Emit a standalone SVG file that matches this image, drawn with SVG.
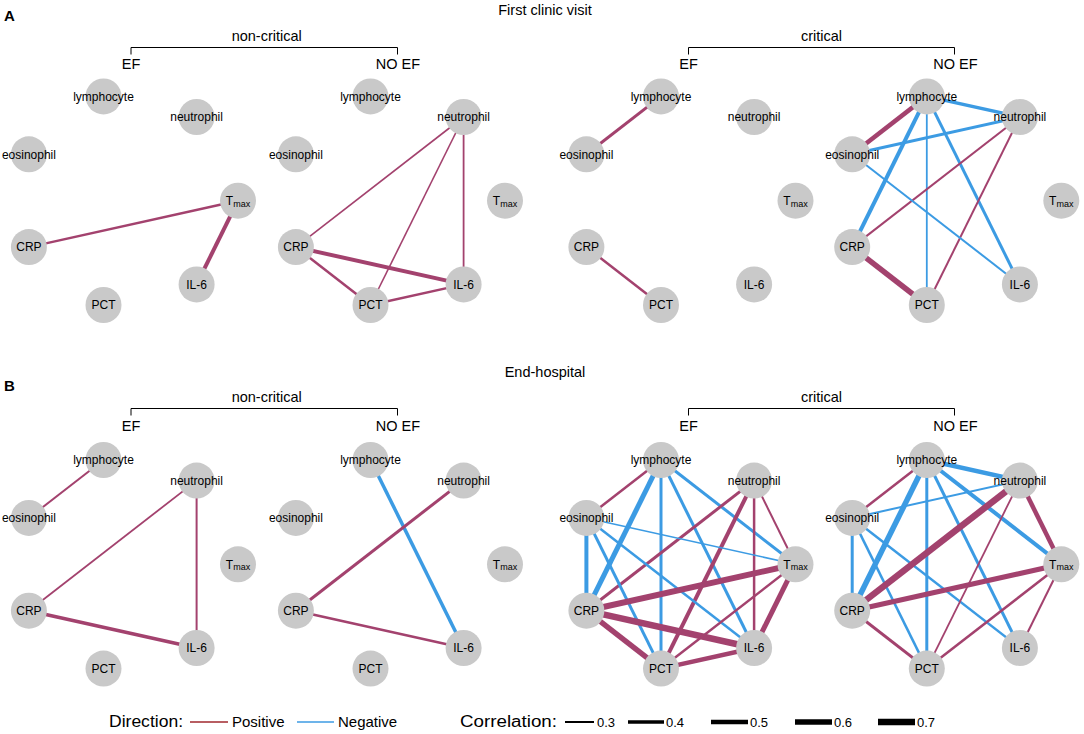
<svg xmlns="http://www.w3.org/2000/svg" width="1084" height="734" viewBox="0 0 1084 734">
<style>
text{font-family:"Liberation Sans",Arial,sans-serif;fill:#000}
.ttl{font-size:14.5px;text-anchor:middle}
.pl{font-size:15px;font-weight:bold}
.nl{font-size:12px;text-anchor:middle}
.sub{font-size:9px}
.nd{fill:#c9c9c9}
.br{fill:none;stroke:#000;stroke-width:1}
.p{stroke:#a3426e;fill:none}
.n{stroke:#3c9be3;fill:none}
.lt{font-size:16px}
.li{font-size:15px}
.ln{font-size:13px}
</style>

<!-- Titles -->
<text class="pl" x="4" y="21">A</text>
<text class="ttl" x="545" y="15">First clinic visit</text>
<text class="ttl" x="266.7" y="40.5">non-critical</text>
<path class="br" d="M131,54.5V47.5H397.5V54.5"/>
<text class="ttl" x="131" y="69">EF</text>
<text class="ttl" x="398" y="69">NO EF</text>
<text class="ttl" x="821.5" y="40.5">critical</text>
<path class="br" d="M688.5,54.5V47.5H954.5V54.5"/>
<text class="ttl" x="688.5" y="69">EF</text>
<text class="ttl" x="955.5" y="69">NO EF</text>

<text class="pl" x="4" y="391">B</text>
<text class="ttl" x="545" y="377">End-hospital</text>
<text class="ttl" x="266.7" y="402">non-critical</text>
<path class="br" d="M131,415.5V408.5H397.5V415.5"/>
<text class="ttl" x="131" y="431">EF</text>
<text class="ttl" x="398" y="431">NO EF</text>
<text class="ttl" x="821.5" y="402">critical</text>
<path class="br" d="M688.5,415.5V408.5H954.5V415.5"/>
<text class="ttl" x="688.5" y="431">EF</text>
<text class="ttl" x="955.5" y="431">NO EF</text>

<!-- Panel A1 -->
<g id="panelA1" transform="translate(128,200.7)">
<g id="A1-connectors">
<line class="p" x1="-99.1" y1="46.4" x2="110" y2="0" stroke-width="2.5"/>
<line class="p" x1="110" y1="0" x2="68.6" y2="83.7" stroke-width="4"/>
</g>
<g id="A1-lymphocyte"><circle class="nd" cx="-24.5" cy="-104.3" r="18"/><text class="nl" x="-24.5" y="-100">lymphocyte</text></g>
<g id="A1-neutrophil"><circle class="nd" cx="68.6" cy="-83.7" r="18"/><text class="nl" x="68.6" y="-79.4">neutrophil</text></g>
<g id="A1-eosinophil"><circle class="nd" cx="-99.1" cy="-46.4" r="18"/><text class="nl" x="-99.1" y="-42.1">eosinophil</text></g>
<g id="A1-Tmax"><circle class="nd" cx="110" cy="0" r="18"/><text class="nl" x="110" y="4.3">T<tspan class="sub" dy="1.7">max</tspan></text></g>
<g id="A1-CRP"><circle class="nd" cx="-99.1" cy="46.4" r="18"/><text class="nl" x="-99.1" y="50.7">CRP</text></g>
<g id="A1-IL6"><circle class="nd" cx="68.6" cy="83.7" r="18"/><text class="nl" x="68.6" y="88">IL-6</text></g>
<g id="A1-PCT"><circle class="nd" cx="-24.5" cy="104.3" r="18"/><text class="nl" x="-24.5" y="108.6">PCT</text></g>
</g>

<!-- Panel A2 -->
<g id="panelA2" transform="translate(395,200.7)">
<g id="A2-connectors">
<line class="p" x1="68.6" y1="-83.7" x2="-99.1" y2="46.4" stroke-width="1.6"/>
<line class="p" x1="68.6" y1="-83.7" x2="-24.5" y2="104.3" stroke-width="1.6"/>
<line class="p" x1="68.6" y1="-83.7" x2="68.6" y2="83.7" stroke-width="1.8"/>
<line class="p" x1="-99.1" y1="46.4" x2="68.6" y2="83.7" stroke-width="4"/>
<line class="p" x1="-99.1" y1="46.4" x2="-24.5" y2="104.3" stroke-width="2.5"/>
<line class="p" x1="-24.5" y1="104.3" x2="68.6" y2="83.7" stroke-width="2.5"/>
</g>
<g id="A2-lymphocyte"><circle class="nd" cx="-24.5" cy="-104.3" r="18"/><text class="nl" x="-24.5" y="-100">lymphocyte</text></g>
<g id="A2-neutrophil"><circle class="nd" cx="68.6" cy="-83.7" r="18"/><text class="nl" x="68.6" y="-79.4">neutrophil</text></g>
<g id="A2-eosinophil"><circle class="nd" cx="-99.1" cy="-46.4" r="18"/><text class="nl" x="-99.1" y="-42.1">eosinophil</text></g>
<g id="A2-Tmax"><circle class="nd" cx="110" cy="0" r="18"/><text class="nl" x="110" y="4.3">T<tspan class="sub" dy="1.7">max</tspan></text></g>
<g id="A2-CRP"><circle class="nd" cx="-99.1" cy="46.4" r="18"/><text class="nl" x="-99.1" y="50.7">CRP</text></g>
<g id="A2-IL6"><circle class="nd" cx="68.6" cy="83.7" r="18"/><text class="nl" x="68.6" y="88">IL-6</text></g>
<g id="A2-PCT"><circle class="nd" cx="-24.5" cy="104.3" r="18"/><text class="nl" x="-24.5" y="108.6">PCT</text></g>
</g>

<!-- Panel A3 -->
<g id="panelA3" transform="translate(685.5,200.7)">
<g id="A3-connectors">
<line class="p" x1="-24.5" y1="-104.3" x2="-99.1" y2="-46.4" stroke-width="3"/>
<line class="p" x1="-99.1" y1="46.4" x2="-24.5" y2="104.3" stroke-width="2.5"/>
</g>
<g id="A3-lymphocyte"><circle class="nd" cx="-24.5" cy="-104.3" r="18"/><text class="nl" x="-24.5" y="-100">lymphocyte</text></g>
<g id="A3-neutrophil"><circle class="nd" cx="68.6" cy="-83.7" r="18"/><text class="nl" x="68.6" y="-79.4">neutrophil</text></g>
<g id="A3-eosinophil"><circle class="nd" cx="-99.1" cy="-46.4" r="18"/><text class="nl" x="-99.1" y="-42.1">eosinophil</text></g>
<g id="A3-Tmax"><circle class="nd" cx="110" cy="0" r="18"/><text class="nl" x="110" y="4.3">T<tspan class="sub" dy="1.7">max</tspan></text></g>
<g id="A3-CRP"><circle class="nd" cx="-99.1" cy="46.4" r="18"/><text class="nl" x="-99.1" y="50.7">CRP</text></g>
<g id="A3-IL6"><circle class="nd" cx="68.6" cy="83.7" r="18"/><text class="nl" x="68.6" y="88">IL-6</text></g>
<g id="A3-PCT"><circle class="nd" cx="-24.5" cy="104.3" r="18"/><text class="nl" x="-24.5" y="108.6">PCT</text></g>
</g>

<!-- Panel A4 -->
<g id="panelA4" transform="translate(951.3,200.7)">
<g id="A4-connectors">
<line class="p" x1="-24.5" y1="-104.3" x2="-99.1" y2="-46.4" stroke-width="4.5"/>
<line class="n" x1="-24.5" y1="-104.3" x2="68.6" y2="-83.7" stroke-width="3.5"/>
<line class="n" x1="-99.1" y1="-46.4" x2="68.6" y2="-83.7" stroke-width="3"/>
<line class="n" x1="-24.5" y1="-104.3" x2="-99.1" y2="46.4" stroke-width="4"/>
<line class="n" x1="-24.5" y1="-104.3" x2="-24.5" y2="104.3" stroke-width="1.8"/>
<line class="n" x1="-24.5" y1="-104.3" x2="68.6" y2="83.7" stroke-width="3"/>
<line class="p" x1="68.6" y1="-83.7" x2="-99.1" y2="46.4" stroke-width="2"/>
<line class="p" x1="68.6" y1="-83.7" x2="-24.5" y2="104.3" stroke-width="2"/>
<line class="n" x1="-99.1" y1="-46.4" x2="68.6" y2="83.7" stroke-width="2"/>
<line class="p" x1="-99.1" y1="46.4" x2="-24.5" y2="104.3" stroke-width="5.5"/>
</g>
<g id="A4-lymphocyte"><circle class="nd" cx="-24.5" cy="-104.3" r="18"/><text class="nl" x="-24.5" y="-100">lymphocyte</text></g>
<g id="A4-neutrophil"><circle class="nd" cx="68.6" cy="-83.7" r="18"/><text class="nl" x="68.6" y="-79.4">neutrophil</text></g>
<g id="A4-eosinophil"><circle class="nd" cx="-99.1" cy="-46.4" r="18"/><text class="nl" x="-99.1" y="-42.1">eosinophil</text></g>
<g id="A4-Tmax"><circle class="nd" cx="110" cy="0" r="18"/><text class="nl" x="110" y="4.3">T<tspan class="sub" dy="1.7">max</tspan></text></g>
<g id="A4-CRP"><circle class="nd" cx="-99.1" cy="46.4" r="18"/><text class="nl" x="-99.1" y="50.7">CRP</text></g>
<g id="A4-IL6"><circle class="nd" cx="68.6" cy="83.7" r="18"/><text class="nl" x="68.6" y="88">IL-6</text></g>
<g id="A4-PCT"><circle class="nd" cx="-24.5" cy="104.3" r="18"/><text class="nl" x="-24.5" y="108.6">PCT</text></g>
</g>

<!-- Panel B1 -->
<g id="panelB1" transform="translate(128,564.3)">
<g id="B1-connectors">
<line class="p" x1="-24.5" y1="-104.3" x2="-99.1" y2="-46.4" stroke-width="2"/>
<line class="p" x1="68.6" y1="-83.7" x2="-99.1" y2="46.4" stroke-width="1.8"/>
<line class="p" x1="68.6" y1="-83.7" x2="68.6" y2="83.7" stroke-width="2"/>
<line class="p" x1="-99.1" y1="46.4" x2="68.6" y2="83.7" stroke-width="3.5"/>
</g>
<g id="B1-lymphocyte"><circle class="nd" cx="-24.5" cy="-104.3" r="18"/><text class="nl" x="-24.5" y="-100">lymphocyte</text></g>
<g id="B1-neutrophil"><circle class="nd" cx="68.6" cy="-83.7" r="18"/><text class="nl" x="68.6" y="-79.4">neutrophil</text></g>
<g id="B1-eosinophil"><circle class="nd" cx="-99.1" cy="-46.4" r="18"/><text class="nl" x="-99.1" y="-42.1">eosinophil</text></g>
<g id="B1-Tmax"><circle class="nd" cx="110" cy="0" r="18"/><text class="nl" x="110" y="4.3">T<tspan class="sub" dy="1.7">max</tspan></text></g>
<g id="B1-CRP"><circle class="nd" cx="-99.1" cy="46.4" r="18"/><text class="nl" x="-99.1" y="50.7">CRP</text></g>
<g id="B1-IL6"><circle class="nd" cx="68.6" cy="83.7" r="18"/><text class="nl" x="68.6" y="88">IL-6</text></g>
<g id="B1-PCT"><circle class="nd" cx="-24.5" cy="104.3" r="18"/><text class="nl" x="-24.5" y="108.6">PCT</text></g>
</g>

<!-- Panel B2 -->
<g id="panelB2" transform="translate(395,564.3)">
<g id="B2-connectors">
<line class="n" x1="-24.5" y1="-104.3" x2="68.6" y2="83.7" stroke-width="3.5"/>
<line class="p" x1="68.6" y1="-83.7" x2="-99.1" y2="46.4" stroke-width="3"/>
<line class="p" x1="-99.1" y1="46.4" x2="68.6" y2="83.7" stroke-width="2.5"/>
</g>
<g id="B2-lymphocyte"><circle class="nd" cx="-24.5" cy="-104.3" r="18"/><text class="nl" x="-24.5" y="-100">lymphocyte</text></g>
<g id="B2-neutrophil"><circle class="nd" cx="68.6" cy="-83.7" r="18"/><text class="nl" x="68.6" y="-79.4">neutrophil</text></g>
<g id="B2-eosinophil"><circle class="nd" cx="-99.1" cy="-46.4" r="18"/><text class="nl" x="-99.1" y="-42.1">eosinophil</text></g>
<g id="B2-Tmax"><circle class="nd" cx="110" cy="0" r="18"/><text class="nl" x="110" y="4.3">T<tspan class="sub" dy="1.7">max</tspan></text></g>
<g id="B2-CRP"><circle class="nd" cx="-99.1" cy="46.4" r="18"/><text class="nl" x="-99.1" y="50.7">CRP</text></g>
<g id="B2-IL6"><circle class="nd" cx="68.6" cy="83.7" r="18"/><text class="nl" x="68.6" y="88">IL-6</text></g>
<g id="B2-PCT"><circle class="nd" cx="-24.5" cy="104.3" r="18"/><text class="nl" x="-24.5" y="108.6">PCT</text></g>
</g>

<!-- Panel B3 -->
<g id="panelB3" transform="translate(685.5,564.3)">
<g id="B3-connectors">
<line class="p" x1="-24.5" y1="-104.3" x2="-99.1" y2="-46.4" stroke-width="2.5"/>
<line class="n" x1="-24.5" y1="-104.3" x2="-99.1" y2="46.4" stroke-width="5"/>
<line class="n" x1="-24.5" y1="-104.3" x2="-24.5" y2="104.3" stroke-width="3"/>
<line class="n" x1="-24.5" y1="-104.3" x2="68.6" y2="83.7" stroke-width="3"/>
<line class="n" x1="-24.5" y1="-104.3" x2="110" y2="0" stroke-width="3"/>
<line class="p" x1="68.6" y1="-83.7" x2="-99.1" y2="46.4" stroke-width="3"/>
<line class="p" x1="68.6" y1="-83.7" x2="-24.5" y2="104.3" stroke-width="4"/>
<line class="p" x1="68.6" y1="-83.7" x2="68.6" y2="83.7" stroke-width="2.5"/>
<line class="p" x1="68.6" y1="-83.7" x2="110" y2="0" stroke-width="2"/>
<line class="n" x1="-99.1" y1="-46.4" x2="110" y2="0" stroke-width="1.5"/>
<line class="n" x1="-99.1" y1="-46.4" x2="-99.1" y2="46.4" stroke-width="4"/>
<line class="n" x1="-99.1" y1="-46.4" x2="-24.5" y2="104.3" stroke-width="3"/>
<line class="n" x1="-99.1" y1="-46.4" x2="68.6" y2="83.7" stroke-width="2.5"/>
<line class="p" x1="-99.1" y1="46.4" x2="110" y2="0" stroke-width="6"/>
<line class="p" x1="-99.1" y1="46.4" x2="68.6" y2="83.7" stroke-width="6.5"/>
<line class="p" x1="-99.1" y1="46.4" x2="-24.5" y2="104.3" stroke-width="5.5"/>
<line class="p" x1="110" y1="0" x2="68.6" y2="83.7" stroke-width="5"/>
<line class="p" x1="110" y1="0" x2="-24.5" y2="104.3" stroke-width="2.5"/>
<line class="p" x1="-24.5" y1="104.3" x2="68.6" y2="83.7" stroke-width="4.5"/>
</g>
<g id="B3-lymphocyte"><circle class="nd" cx="-24.5" cy="-104.3" r="18"/><text class="nl" x="-24.5" y="-100">lymphocyte</text></g>
<g id="B3-neutrophil"><circle class="nd" cx="68.6" cy="-83.7" r="18"/><text class="nl" x="68.6" y="-79.4">neutrophil</text></g>
<g id="B3-eosinophil"><circle class="nd" cx="-99.1" cy="-46.4" r="18"/><text class="nl" x="-99.1" y="-42.1">eosinophil</text></g>
<g id="B3-Tmax"><circle class="nd" cx="110" cy="0" r="18"/><text class="nl" x="110" y="4.3">T<tspan class="sub" dy="1.7">max</tspan></text></g>
<g id="B3-CRP"><circle class="nd" cx="-99.1" cy="46.4" r="18"/><text class="nl" x="-99.1" y="50.7">CRP</text></g>
<g id="B3-IL6"><circle class="nd" cx="68.6" cy="83.7" r="18"/><text class="nl" x="68.6" y="88">IL-6</text></g>
<g id="B3-PCT"><circle class="nd" cx="-24.5" cy="104.3" r="18"/><text class="nl" x="-24.5" y="108.6">PCT</text></g>
</g>

<!-- Panel B4 -->
<g id="panelB4" transform="translate(951.3,564.3)">
<g id="B4-connectors">
<line class="p" x1="-24.5" y1="-104.3" x2="-99.1" y2="-46.4" stroke-width="2.5"/>
<line class="n" x1="-24.5" y1="-104.3" x2="68.6" y2="-83.7" stroke-width="4.5"/>
<line class="n" x1="-24.5" y1="-104.3" x2="-99.1" y2="46.4" stroke-width="5.5"/>
<line class="n" x1="-24.5" y1="-104.3" x2="-24.5" y2="104.3" stroke-width="3"/>
<line class="n" x1="-24.5" y1="-104.3" x2="68.6" y2="83.7" stroke-width="3"/>
<line class="n" x1="-24.5" y1="-104.3" x2="110" y2="0" stroke-width="4"/>
<line class="n" x1="-99.1" y1="-46.4" x2="68.6" y2="-83.7" stroke-width="2"/>
<line class="n" x1="-99.1" y1="-46.4" x2="-99.1" y2="46.4" stroke-width="3"/>
<line class="n" x1="-99.1" y1="-46.4" x2="-24.5" y2="104.3" stroke-width="2.5"/>
<line class="n" x1="-99.1" y1="-46.4" x2="68.6" y2="83.7" stroke-width="2.5"/>
<line class="p" x1="68.6" y1="-83.7" x2="-99.1" y2="46.4" stroke-width="6.5"/>
<line class="p" x1="68.6" y1="-83.7" x2="-24.5" y2="104.3" stroke-width="1.8"/>
<line class="p" x1="68.6" y1="-83.7" x2="110" y2="0" stroke-width="4.5"/>
<line class="p" x1="-99.1" y1="46.4" x2="110" y2="0" stroke-width="5"/>
<line class="p" x1="-99.1" y1="46.4" x2="-24.5" y2="104.3" stroke-width="3"/>
<line class="p" x1="110" y1="0" x2="-24.5" y2="104.3" stroke-width="2.5"/>
<line class="p" x1="110" y1="0" x2="68.6" y2="83.7" stroke-width="2"/>
</g>
<g id="B4-lymphocyte"><circle class="nd" cx="-24.5" cy="-104.3" r="18"/><text class="nl" x="-24.5" y="-100">lymphocyte</text></g>
<g id="B4-neutrophil"><circle class="nd" cx="68.6" cy="-83.7" r="18"/><text class="nl" x="68.6" y="-79.4">neutrophil</text></g>
<g id="B4-eosinophil"><circle class="nd" cx="-99.1" cy="-46.4" r="18"/><text class="nl" x="-99.1" y="-42.1">eosinophil</text></g>
<g id="B4-Tmax"><circle class="nd" cx="110" cy="0" r="18"/><text class="nl" x="110" y="4.3">T<tspan class="sub" dy="1.7">max</tspan></text></g>
<g id="B4-CRP"><circle class="nd" cx="-99.1" cy="46.4" r="18"/><text class="nl" x="-99.1" y="50.7">CRP</text></g>
<g id="B4-IL6"><circle class="nd" cx="68.6" cy="83.7" r="18"/><text class="nl" x="68.6" y="88">IL-6</text></g>
<g id="B4-PCT"><circle class="nd" cx="-24.5" cy="104.3" r="18"/><text class="nl" x="-24.5" y="108.6">PCT</text></g>
</g>

<!-- Legend -->
<g id="legend">
<text class="lt" x="109" y="727" textLength="74" lengthAdjust="spacingAndGlyphs">Direction:</text>
<line x1="190" y1="722" x2="228" y2="722" stroke="#a0282e" stroke-width="1.5"/>
<text class="li" x="232" y="727">Positive</text>
<line x1="297" y1="722" x2="334" y2="722" stroke="#3c9be3" stroke-width="1.5"/>
<text class="li" x="338" y="727">Negative</text>
<text class="lt" x="460" y="727" textLength="97" lengthAdjust="spacingAndGlyphs">Correlation:</text>
<line x1="565" y1="722" x2="594" y2="722" stroke="#000" stroke-width="2"/>
<text class="ln" x="597" y="727">0.3</text>
<line x1="628" y1="722" x2="664" y2="722" stroke="#000" stroke-width="3.5"/>
<text class="ln" x="666" y="727">0.4</text>
<line x1="711" y1="722" x2="748" y2="722" stroke="#000" stroke-width="4.5"/>
<text class="ln" x="750" y="727">0.5</text>
<line x1="795" y1="722" x2="832" y2="722" stroke="#000" stroke-width="5.5"/>
<text class="ln" x="834" y="727">0.6</text>
<line x1="878" y1="722" x2="915" y2="722" stroke="#000" stroke-width="6.5"/>
<text class="ln" x="917" y="727">0.7</text>
</g>
</svg>
